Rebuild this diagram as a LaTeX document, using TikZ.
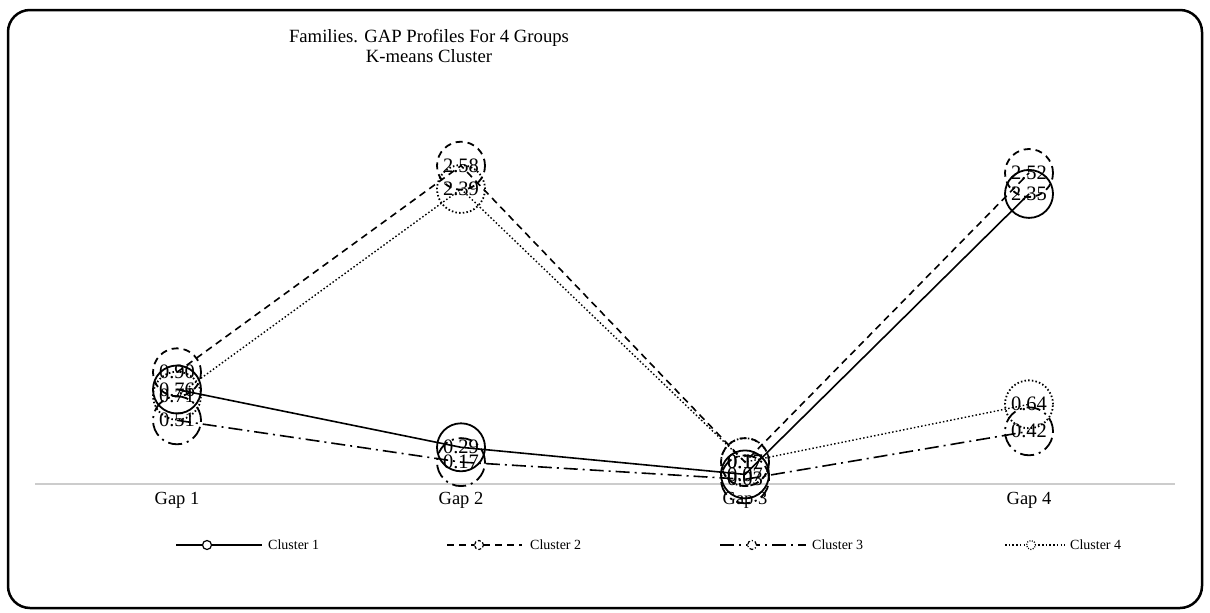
\documentclass[tikz,border=0pt]{standalone}
\usepackage{fontspec}
\setmainfont{Liberation Serif}
\tikzset{
  s1/.style={line width=1.6pt},
  s2/.style={line width=1.6pt,dash pattern=on 7pt off 5pt},
  s3/.style={line width=1.6pt,dash pattern=on 14pt off 5pt on 2pt off 5pt},
  s4/.style={line width=1.4pt,dash pattern=on 1.5pt off 2.2pt},
  lab/.style={circle,minimum size=48pt,inner sep=0pt,line width=1.8pt,font=\fontsize{20.5}{20.5}\selectfont},
  ttl/.style={anchor=base,font=\fontsize{18.7}{20}\selectfont},
  gap/.style={anchor=base,font=\fontsize{18.5}{20}\selectfont},
  legtxt/.style={anchor=west,inner sep=0pt,font=\fontsize{14}{15}\selectfont},
  legmark/.style={circle,fill=white,minimum size=9pt,inner sep=0pt,line width=1.2pt}
}
\begin{document}
\begin{tikzpicture}[x=1pt,y=-1pt]
\useasboundingbox (0,0) rectangle (1210,613);
\draw[line width=2.5pt,rounded corners=22pt] (8,10) rectangle (1202,608);
% title
\node[ttl] (t1) at (429,42) {Families. GAP Profiles For 4 Groups};
\node[ttl] (t2) at (429,62) {K-means Cluster};
% axis
\coordinate (axL) at (35,484);
\coordinate (axR) at (1175,484);
\draw[black!20,line width=1.3pt] (axL) -- (axR);
\node[gap] (g1) at (177,504) {Gap 1};
\node[gap] (g2) at (461,504) {Gap 2};
\node[gap] (g3) at (745,504) {Gap 3};
\node[gap] (g4) at (1029,504) {Gap 4};
% data y = 483 - 123 v
% cluster 1
\node[lab,draw,s1,line width=1.8pt] (c1g1) at (177,389.5) {0.76};
\node[lab,draw,s1,line width=1.8pt] (c1g2) at (461,447.3) {0.29};
\node[lab,draw,s1,line width=1.8pt] (c1g3) at (745,474.4) {0.07};
\node[lab,draw,s1,line width=1.8pt] (c1g4) at (1029,193.9) {2.35};
% cluster 2
\node[lab,draw,s2,line width=1.8pt] (c2g1) at (177,372.3) {0.90};
\node[lab,draw,s2,line width=1.8pt] (c2g2) at (461,165.7) {2.58};
\node[lab,draw,s2,line width=1.8pt] (c2g3) at (745,462.1) {0.17};
\node[lab,draw,s2,line width=1.8pt] (c2g4) at (1029,173.0) {2.52};
% cluster 3
\node[lab,draw,s3,line width=1.8pt] (c3g1) at (177,420.3) {0.51};
\node[lab,draw,s3,line width=1.8pt] (c3g2) at (461,462.1) {0.17};
\node[lab,draw,s3,line width=1.8pt] (c3g3) at (745,479.3) {0.03};
\node[lab,draw,s3,line width=1.8pt] (c3g4) at (1029,431.3) {0.42};
% cluster 4
\node[lab,draw,s4,line width=1.8pt] (c4g1) at (177,395.7) {0.71};
\node[lab,draw,s4,line width=1.8pt] (c4g2) at (461,189.0) {2.39};
\node[lab,draw,s4,line width=1.8pt] (c4g3) at (745,462.1) {0.17};
\node[lab,draw,s4,line width=1.8pt] (c4g4) at (1029,404.3) {0.64};
% series lines
\draw[s1] (c1g1.center) -- (c1g2.center) -- (c1g3.center) -- (c1g4.center);
\draw[s2] (c2g1.center) -- (c2g2.center) -- (c2g3.center) -- (c2g4.center);
\draw[s3] (c3g1.center) -- (c3g2.center) -- (c3g3.center) -- (c3g4.center);
\draw[s4] (c4g1.center) -- (c4g2.center) -- (c4g3.center) -- (c4g4.center);
% legend
\coordinate (l1a) at (176,545); \coordinate (l1b) at (262,545);
\draw[s1] (l1a) -- (l1b);
\node[legmark,draw] (l1m) at (207,545) {};
\node[legtxt] (l1t) at (268,545) {Cluster 1};
\coordinate (l2a) at (447,545); \coordinate (l2b) at (522,545);
\draw[s2] (l2a) -- (l2b);
\node[legmark,draw,dash pattern=on 3pt off 2pt] (l2m) at (479,545) {};
\node[legtxt] (l2t) at (530,545) {Cluster 2};
\coordinate (l3a) at (720,545); \coordinate (l3b) at (806,545);
\draw[s3] (l3a) -- (l3b);
\node[legmark,draw,dash pattern=on 4pt off 2pt on 1pt off 2pt] (l3m) at (752,545) {};
\node[legtxt] (l3t) at (812,545) {Cluster 3};
\coordinate (l4a) at (1005,545); \coordinate (l4b) at (1065,545);
\draw[s4] (l4a) -- (l4b);
\node[legmark,draw,dash pattern=on 1pt off 1.5pt] (l4m) at (1031,545) {};
\node[legtxt] (l4t) at (1070,545) {Cluster 4};
\end{tikzpicture}
\end{document}
